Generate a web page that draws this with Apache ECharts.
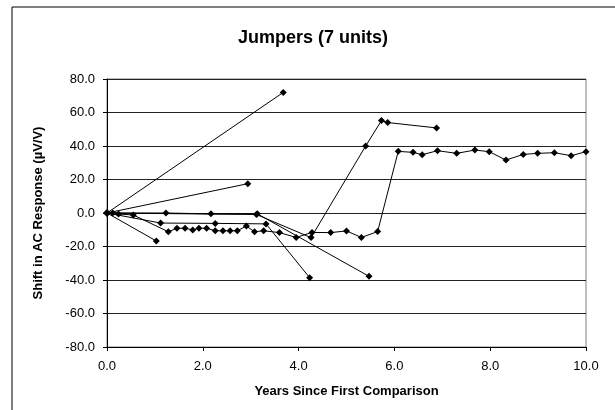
<!DOCTYPE html>
<html>
<head>
<meta charset="utf-8">
<script src="https://cdn.jsdelivr.net/npm/echarts@6/dist/echarts.min.js"></script>
<style>
  html, body { margin: 0; padding: 0; background: #fff; }
  #chart { width: 615px; height: 410px; }
</style>
</head>
<body>
<div id="chart"></div>
<script>
// data: [years, shift in µV/V]
var unit1 = [[0, 0], [3.68, 72]];
var unit2 = [[0, 0], [2.94, 17.5]];
var unit3 = [[0, 0], [1.03, -16.7]];
var unit4 = [[0, 0], [1.23, 0], [2.17, -0.5], [3.14, -0.5], [5.47, -37.8]];
var unit5 = [[0, 0], [1.12, -6], [2.26, -6.2], [3.32, -6.5], [4.23, -38.6]];
var unit6 = [[0, 0], [3.12, -0.9], [4.26, -14.7], [5.40, 40], [5.73, 55.2], [5.86, 54], [6.88, 50.8]];
var unit7 = [
  [0, 0], [0.12, 0], [0.24, -0.6], [0.55, -1.2], [1.28, -11.2], [1.46, -9.1],
  [1.63, -9.1], [1.79, -10.1], [1.92, -9.1], [2.08, -9.1], [2.26, -10.6],
  [2.42, -10.6], [2.57, -10.6], [2.72, -10.6], [2.91, -7.8], [3.08, -11.2],
  [3.27, -10.6], [3.60, -11.7], [3.95, -14.6], [4.28, -11.6], [4.67, -11.7],
  [5.00, -10.7], [5.31, -14.6], [5.65, -11.1], [6.08, 36.8], [6.39, 36.2],
  [6.58, 34.8], [6.90, 37.2], [7.30, 35.6], [7.68, 37.6], [7.98, 36.6],
  [8.33, 31.6], [8.69, 35], [8.99, 35.6], [9.34, 36], [9.69, 34.2], [10.0, 36.6]
];
var allUnits = [unit1, unit2, unit3, unit4, unit5, unit6, unit7];

var myEcharts = echarts.init(document.getElementById('chart'), null, { renderer: 'canvas' });

// every unit drawn the same way: black line, black diamonds
var series = allUnits.map(function (d, i) {
  return {
    name: 'unit ' + (i + 1),
    type: 'line',
    data: d,
    symbol: 'diamond',
    symbolSize: 7,
    showSymbol: true,
    itemStyle: { color: '#000' },
    lineStyle: { color: '#000', width: 1 },
    z: 3
  };
});

var option = {
  animation: false,
  backgroundColor: '#fff',
  textStyle: { fontFamily: 'Liberation Sans, Arial, sans-serif' },
  title: {
    text: 'Jumpers (7 units)',
    left: 308,
    top: 24,
    textAlign: 'center',
    textStyle: { fontSize: 18, fontWeight: 'bold', color: '#000' }
  },
  graphic: [
    {
      // outer chart frame (runs off the right/bottom edge)
      type: 'rect',
      shape: { x: 12, y: 7, width: 640, height: 440 },
      style: { fill: 'none', stroke: '#000', lineWidth: 1 },
      silent: true
    }
  ],
  grid: {
    left: 107,
    right: 29,
    top: 79,
    bottom: 63,
    show: true,
    borderColor: '#808080',
    borderWidth: 1
  },
  xAxis: {
    type: 'value',
    min: 0,
    max: 10,
    interval: 2,
    name: 'Years Since First Comparison',
    nameLocation: 'middle',
    nameGap: 38,
    nameTextStyle: { fontSize: 13, fontWeight: 'bold', color: '#000' },
    axisLine: { show: true, onZero: false, lineStyle: { color: '#000', width: 1 } },
    axisTick: { show: true, inside: false, length: 4, lineStyle: { color: '#000' } },
    axisLabel: {
      color: '#000',
      fontSize: 13,
      margin: 13,
      formatter: function (v) { return v.toFixed(1); }
    },
    splitLine: { show: false }
  },
  yAxis: {
    type: 'value',
    min: -80,
    max: 80,
    interval: 20,
    name: 'Shift in AC Response (µV/V)',
    nameLocation: 'middle',
    nameGap: 62,
    nameTextStyle: { fontSize: 13, fontWeight: 'bold', color: '#000' },
    axisLine: { show: true, onZero: false, lineStyle: { color: '#000', width: 1 } },
    axisTick: { show: true, inside: false, length: 4, lineStyle: { color: '#000' } },
    axisLabel: {
      color: '#000',
      fontSize: 13,
      margin: 12,
      formatter: function (v) { return v.toFixed(1); }
    },
    splitLine: { show: true, lineStyle: { color: '#222', width: 1 } }
  },
  series: series
};

myEcharts.setOption(option);
window.addEventListener('resize', function () {
  myEcharts.resize();
});
</script>
</body>
</html>
